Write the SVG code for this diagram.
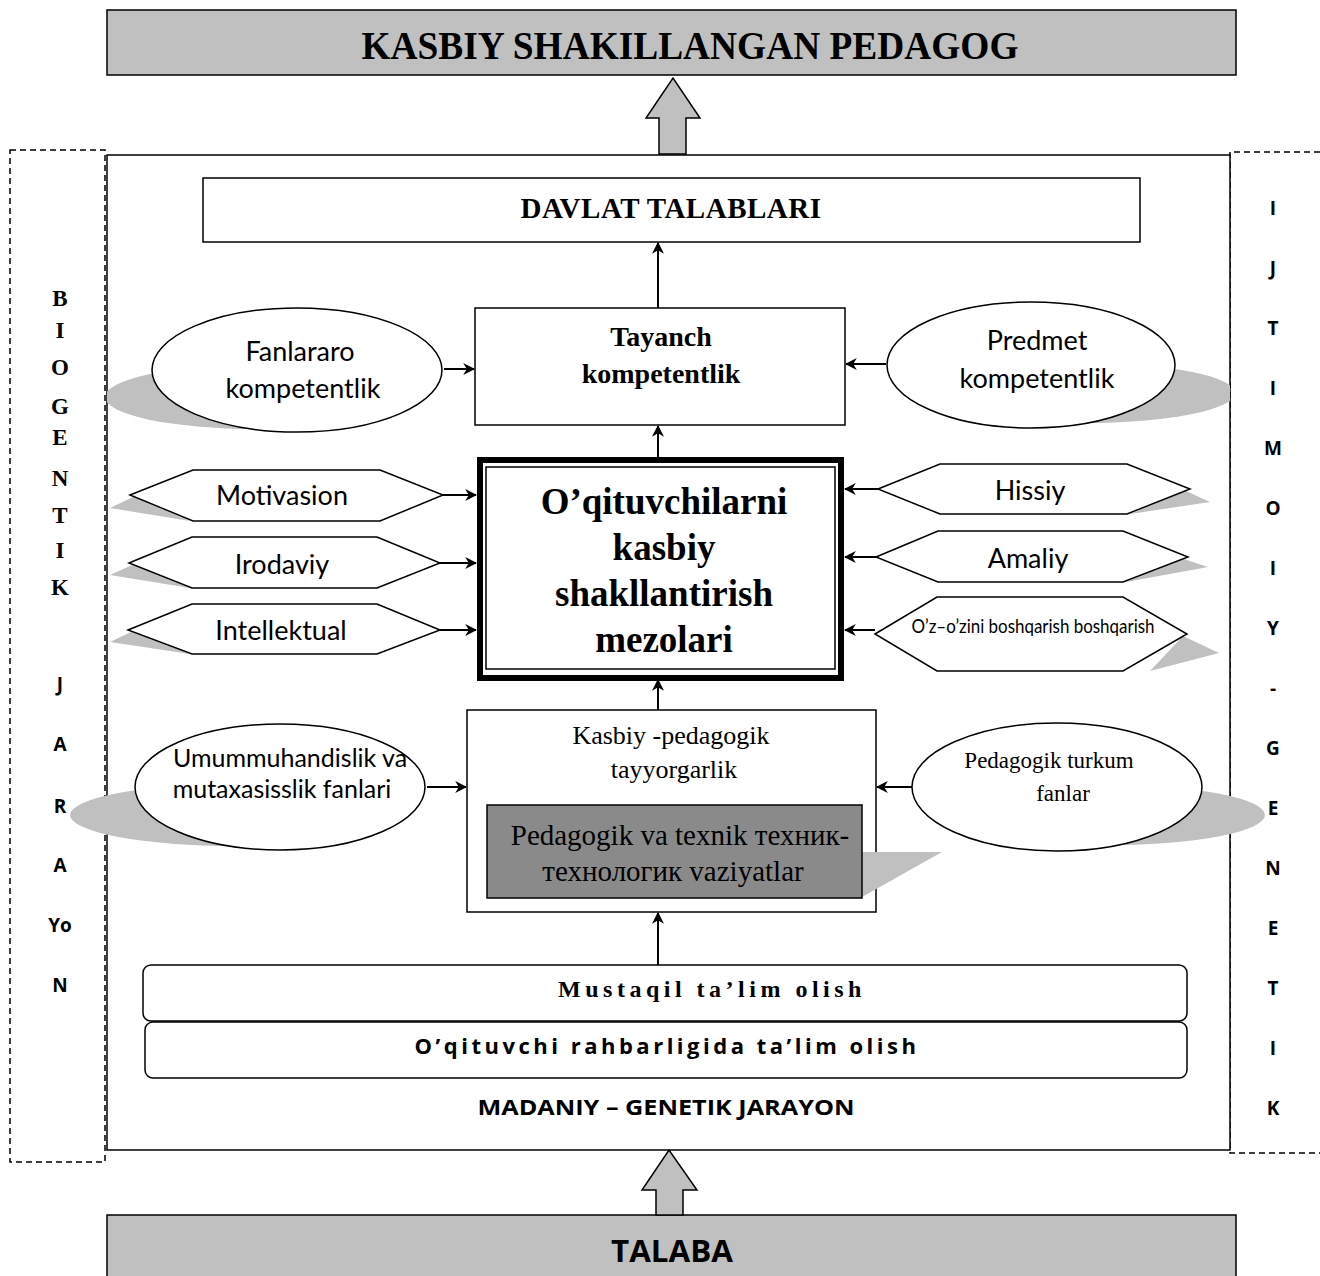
<svg xmlns="http://www.w3.org/2000/svg" width="1320" height="1276" viewBox="0 0 1320 1276">
<defs>
<style>
.box{fill:#fff;stroke:#000;stroke-width:1.5}
.gray{fill:#c0c0c0;stroke:#000;stroke-width:1.5}
.shadow{fill:#c0c0c0;stroke:none}
.dash{fill:none;stroke:#000;stroke-width:1.5;stroke-dasharray:6 4}
.conn{stroke:#000;stroke-width:2;fill:none;marker-end:url(#ah)}
.serif{font-family:"Liberation Serif","Times New Roman",serif}
.sans{font-family:"Open Sans","Liberation Sans",sans-serif}
.cal{font-family:Lato,"Open Sans",sans-serif}
.b{font-weight:bold}
.c{text-anchor:middle}
.lt{font-family:"Liberation Serif",serif;font-weight:bold;font-size:23px;text-anchor:middle}
.rt{font-family:"Open Sans","Liberation Sans",sans-serif;font-weight:bold;font-size:19px;text-anchor:middle}
</style>
<marker id="ah" viewBox="0 0 10 10" refX="9" refY="5" markerWidth="6" markerHeight="6" markerUnits="strokeWidth" orient="auto">
<path d="M0,0 L10,5 L0,10 L3,5 Z" fill="#000"/>
</marker>
<clipPath id="mainclip"><rect x="107" y="155" width="1123" height="995"/></clipPath>
</defs>

<!-- side panels -->
<g id="biogentik">
<rect class="dash" x="10" y="150" width="95" height="1012"/>
<text class="lt" x="60" y="306">B</text>
<text class="lt" x="60" y="338">I</text>
<text class="lt" x="60" y="375">O</text>
<text class="lt" x="60" y="414">G</text>
<text class="lt" x="60" y="445">E</text>
<text class="lt" x="60" y="486">N</text>
<text class="lt" x="60" y="523">T</text>
<text class="lt" x="60" y="558">I</text>
<text class="lt" x="60" y="595">K</text>
<text class="rt" x="60" y="691">J</text>
<text class="rt" x="60" y="751">A</text>
<text class="rt" x="60" y="813">R</text>
<text class="rt" x="60" y="872">A</text>
<text class="rt" x="60" y="932">Yo</text>
<text class="rt" x="60" y="992">N</text>
</g>

<g id="ijtimoiy">
<path class="dash" d="M1320,152 H1230 V1153 H1320"/>
<text class="rt" x="1273" y="215">I</text>
<text class="rt" x="1273" y="275">J</text>
<text class="rt" x="1273" y="335">T</text>
<text class="rt" x="1273" y="395">I</text>
<text class="rt" x="1273" y="455">M</text>
<text class="rt" x="1273" y="515">O</text>
<text class="rt" x="1273" y="575">I</text>
<text class="rt" x="1273" y="635">Y</text>
<text class="rt" x="1273" y="695">-</text>
<text class="rt" x="1273" y="755">G</text>
<text class="rt" x="1273" y="815">E</text>
<text class="rt" x="1273" y="875">N</text>
<text class="rt" x="1273" y="935">E</text>
<text class="rt" x="1273" y="995">T</text>
<text class="rt" x="1273" y="1055">I</text>
<text class="rt" x="1273" y="1115">K</text>
</g>

<!-- main frame -->
<g id="main-frame">
<rect class="box" x="107" y="155" width="1123" height="995" fill="none"/>
</g>

<!-- top and bottom -->
<g id="pedagog">
<rect class="gray" x="107" y="10" width="1129" height="65"/>
<text class="serif b c" x="690" y="59" font-size="40" textLength="657" lengthAdjust="spacingAndGlyphs">KASBIY SHAKILLANGAN PEDAGOG</text>
</g>
<g id="talaba">
<rect class="gray" x="107" y="1215" width="1129" height="70"/>
<text class="sans b c" x="672" y="1262" font-size="31" textLength="122" lengthAdjust="spacingAndGlyphs">TALABA</text>
</g>

<g id="davlat">
<rect class="box" x="203" y="178" width="937" height="64"/>
<text class="serif b c" x="671" y="218" font-size="29" letter-spacing="0.5">DAVLAT TALABLARI</text>
</g>

<g id="tayanch">
<rect class="box" x="475" y="308" width="370" height="117"/>
<text class="serif b c" x="661" y="346" font-size="28">Tayanch</text>
<text class="serif b c" x="661" y="383" font-size="28">kompetentlik</text>
</g>

<g id="fanlararo">
<ellipse class="shadow" cx="255" cy="397" rx="150" ry="32" clip-path="url(#mainclip)"/>
<ellipse class="box" cx="297" cy="370" rx="145" ry="62"/>
<text class="cal c" x="300" y="361" font-size="27">Fanlararo</text>
<text class="cal c" x="303" y="398" font-size="27">kompetentlik</text>
</g>

<g id="predmet">
<ellipse class="shadow" cx="1085" cy="393" rx="150" ry="30" clip-path="url(#mainclip)"/>
<ellipse class="box" cx="1031" cy="365" rx="144" ry="63"/>
<text class="cal c" x="1037" y="350" font-size="27">Predmet</text>
<text class="cal c" x="1037" y="388" font-size="27">kompetentlik</text>
</g>

<g id="mezonlar">
<rect x="480" y="460" width="361" height="218" fill="#fff" stroke="#000" stroke-width="6"/>
<rect x="486" y="467" width="349" height="202" fill="none" stroke="#000" stroke-width="1.5"/>
<text class="serif b c" x="664" y="514" font-size="37">O’qituvchilarni</text>
<text class="serif b c" x="664" y="560" font-size="37">kasbiy</text>
<text class="serif b c" x="664" y="606" font-size="37">shakllantirish</text>
<text class="serif b c" x="664" y="652" font-size="37">mezolari</text>
</g>

<g id="motivasion">
<polygon class="shadow" points="133,497 110,508 190,521"/>
<polygon class="box" points="130,495 193,470 380,470 443,495 380,521 193,521"/>
<text class="cal c" x="282" y="505" font-size="27">Motivasion</text>
</g>
<g id="irodaviy">
<polygon class="shadow" points="132,565 110,575 190,588"/>
<polygon class="box" points="129,563 192,537 377,537 440,563 377,588 192,588"/>
<text class="cal c" x="282" y="574" font-size="27">Irodaviy</text>
</g>
<g id="intellektual">
<polygon class="shadow" points="131,632 110,642 190,654"/>
<polygon class="box" points="128,630 192,604 377,604 440,630 377,654 192,654"/>
<text class="cal c" x="281" y="640" font-size="27">Intellektual</text>
</g>

<g id="hissiy">
<polygon class="shadow" points="1186,491 1210,502 1130,514"/>
<polygon class="box" points="878,489 940,464 1127,464 1190,489 1127,514 940,514"/>
<text class="cal c" x="1030" y="500" font-size="27">Hissiy</text>
</g>
<g id="amaliy">
<polygon class="shadow" points="1184,559 1208,567 1126,582"/>
<polygon class="box" points="876,557 938,531 1123,531 1188,557 1123,582 938,582"/>
<text class="cal c" x="1028" y="568" font-size="27">Amaliy</text>
</g>
<g id="ozini">
<polygon class="shadow" points="1183,636 1219,653 1150,671"/>
<polygon class="box" points="875,634 937,597 1123,597 1187,634 1123,671 937,671"/>
<text class="cal c" x="1033" y="633" font-size="19" textLength="243" lengthAdjust="spacingAndGlyphs">O’z–o’zini boshqarish boshqarish</text>
</g>

<g id="kasbiy-ped">
<rect class="box" x="467" y="710" width="409" height="202"/>
<polygon class="shadow" points="862,852 942,852 862,897"/>
<rect x="487" y="805" width="375" height="93" fill="#8a8a8a" stroke="#000" stroke-width="1.5"/>
<text class="serif c" x="671" y="744" font-size="26">Kasbiy -pedagogik</text>
<text class="serif c" x="674" y="778" font-size="26">tayyorgarlik</text>
<text class="serif c" x="680" y="845" font-size="29">Pedagogik va texnik техник-</text>
<text class="serif c" x="673" y="881" font-size="29">технологик vaziyatlar</text>
</g>

<g id="umummuhandislik">
<ellipse class="shadow" cx="235" cy="815" rx="165" ry="31"/>
<ellipse class="box" cx="280" cy="787" rx="145" ry="63"/>
<text class="cal c" x="290" y="767" font-size="25">Umummuhandislik va</text>
<text class="cal c" x="282" y="798" font-size="25">mutaxasisslik fanlari</text>
</g>

<g id="pedagogik-turkum">
<ellipse class="shadow" cx="1110" cy="815" rx="155" ry="30"/>
<ellipse class="box" cx="1057" cy="787" rx="145" ry="64"/>
<text class="serif c" x="1049" y="768" font-size="23">Pedagogik turkum</text>
<text class="serif c" x="1063" y="801" font-size="23">fanlar</text>
</g>

<g id="mustaqil">
<rect class="box" x="143" y="965" width="1044" height="56" rx="8"/>
<text class="serif b c" x="712" y="997" font-size="24" letter-spacing="4.5">Mustaqil ta’lim olish</text>
</g>
<g id="oqituvchi">
<rect class="box" x="145" y="1022" width="1042" height="56" rx="8"/>
<text class="sans b c" x="667" y="1054" font-size="22" letter-spacing="3.5">O’qituvchi rahbarligida ta’lim olish</text>
</g>
<g id="madaniy">
<text class="sans b c" x="666" y="1115" font-size="21" textLength="377" lengthAdjust="spacingAndGlyphs">MADANIY – GENETIK JARAYON</text>
</g>

<!-- connectors -->
<g id="connectors">
<polygon points="659,154 659,118 646,118 673,78 700,118 686,118 686,154" fill="#c0c0c0" stroke="#000" stroke-width="1.5"/>
<polygon points="656,1215 656,1190 642,1190 669,1150 697,1190 683,1190 683,1215" fill="#c0c0c0" stroke="#000" stroke-width="1.5"/>
<line class="conn" x1="658" y1="308" x2="658" y2="243"/>
<line class="conn" x1="658" y1="457" x2="658" y2="426"/>
<line class="conn" x1="658" y1="710" x2="658" y2="680"/>
<line class="conn" x1="658" y1="965" x2="658" y2="913"/>
<line class="conn" x1="444" y1="369" x2="474" y2="369"/>
<line class="conn" x1="886" y1="364" x2="846" y2="364"/>
<line class="conn" x1="443" y1="495" x2="476" y2="495"/>
<line class="conn" x1="440" y1="563" x2="476" y2="563"/>
<line class="conn" x1="440" y1="630" x2="476" y2="630"/>
<line class="conn" x1="878" y1="489" x2="845" y2="489"/>
<line class="conn" x1="876" y1="557" x2="845" y2="557"/>
<line class="conn" x1="875" y1="630" x2="845" y2="630"/>
<line class="conn" x1="427" y1="787" x2="466" y2="787"/>
<line class="conn" x1="912" y1="787" x2="877" y2="787"/>
</g>
</svg>
